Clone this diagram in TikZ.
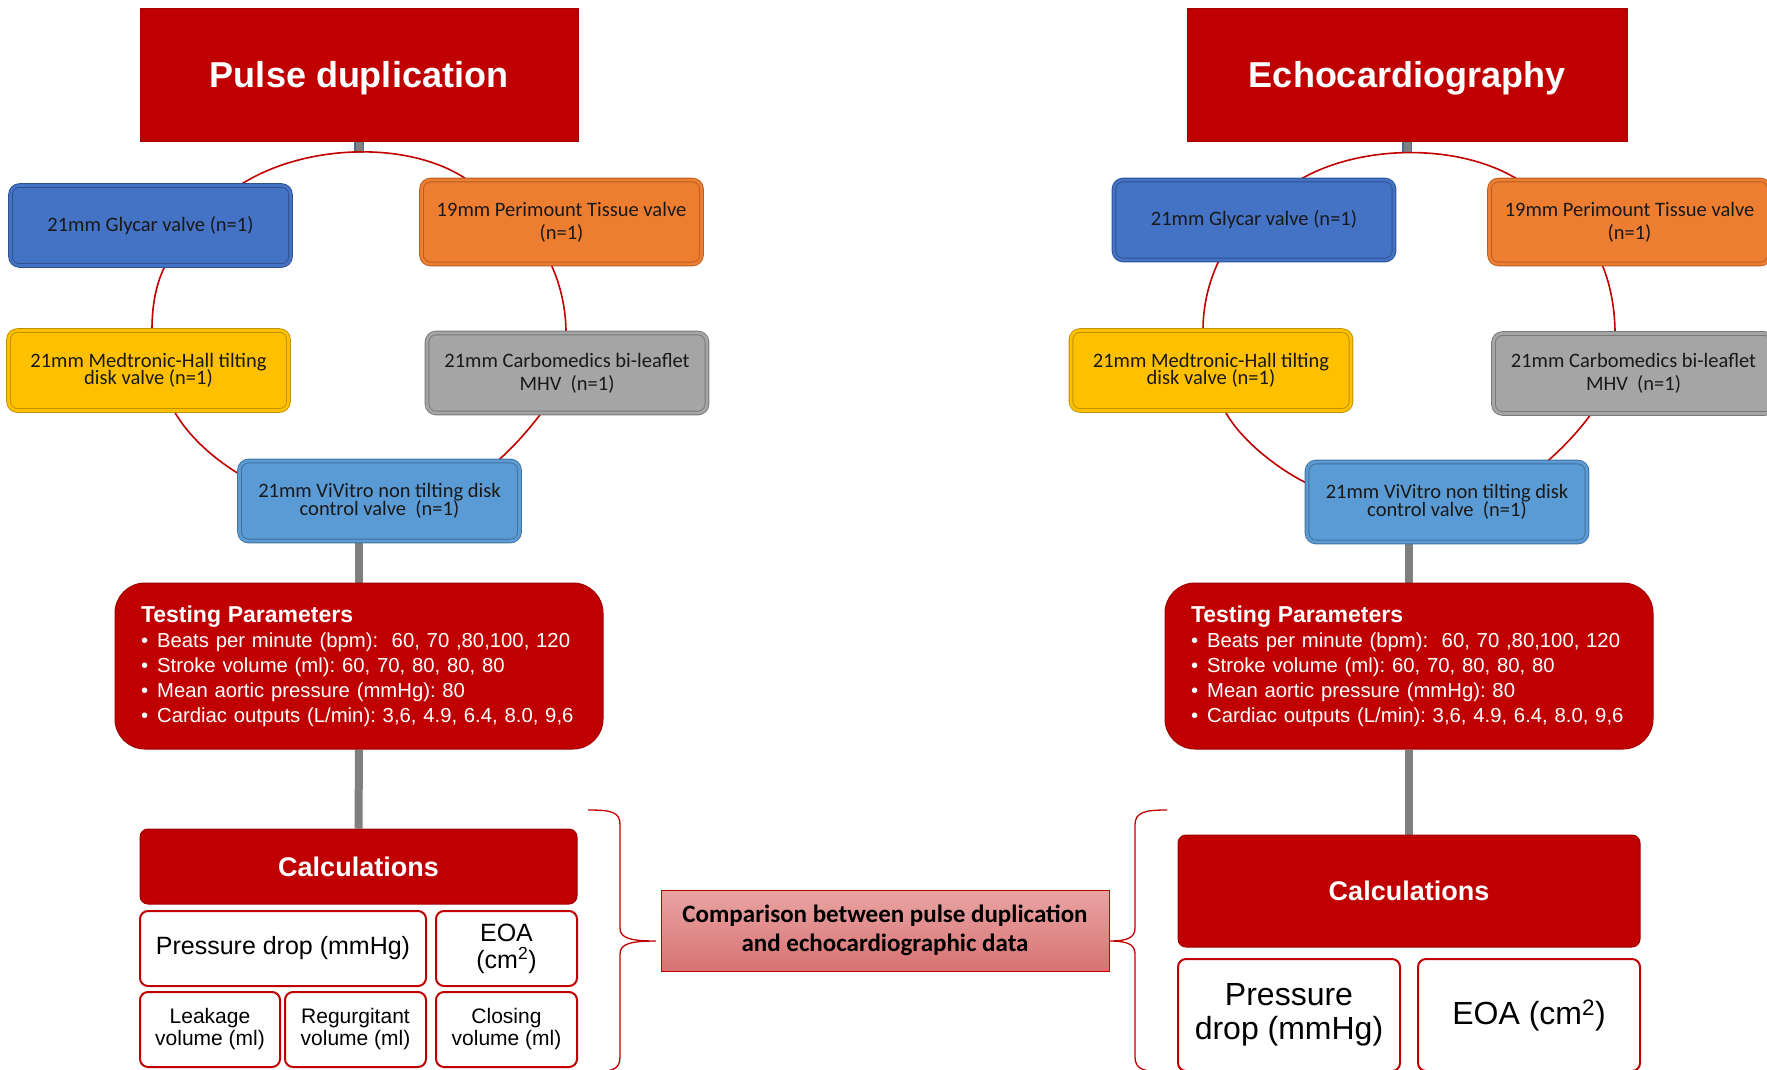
\documentclass[tikz,border=0pt]{standalone}
\usepackage{fontspec}
\setmainfont{Liberation Sans}
\newfontfamily\calibfont{Carlito}
\usetikzlibrary{backgrounds}
\definecolor{pdred}{HTML}{C00000}
\definecolor{pdredline}{HTML}{A00000}
\definecolor{glyblue}{HTML}{4472C4}
\definecolor{glyblueline}{HTML}{2F528F}
\definecolor{periorange}{HTML}{ED7D31}
\definecolor{perioline}{HTML}{B85F22}
\definecolor{medyellow}{HTML}{FFC000}
\definecolor{medline}{HTML}{C09000}
\definecolor{carbgrey}{HTML}{A5A5A5}
\definecolor{carbline}{HTML}{787878}
\definecolor{vivblue}{HTML}{5B9BD5}
\definecolor{vivline}{HTML}{41719C}
\definecolor{linkgrey}{HTML}{7F7F7F}
\definecolor{stubline}{HTML}{4A6A9A}
\definecolor{comptop}{HTML}{E9A4A4}
\definecolor{compbottom}{HTML}{D87272}
\newcommand\tightlines{\lineskiplimit=-50pt}
\begin{document}
\begin{tikzpicture}[x=1pt, y=-1pt,
  ring/.style={draw=pdred, line width=1.6pt},
  link/.style={draw=linkgrey, line width=8pt},
  stub/.style={draw=stubline, double=linkgrey, double distance=7pt, line width=1.2pt},
  headbox/.style={rectangle, fill=pdred, draw=pdredline, line width=1pt, text=white, inner sep=0pt, text depth=0pt, minimum height=133pt, font=\fontsize{36}{40}\selectfont\bfseries},
  valve/.style 2 args={rectangle, rounded corners=9pt, fill=#1, draw=#2, double=#1, double distance=2.8pt, line width=0.9pt, inner sep=0pt, minimum width=280pt, minimum height=80pt, align=center, text=black!90, font=\calibfont\fontsize{20.5}{23}\selectfont},
  tight/.style={font=\calibfont\fontsize{20.5}{17.5}\selectfont\tightlines},
  parambox/.style={rectangle, rounded corners=30pt, fill=pdred, draw=pdredline, line width=1pt, text=white, minimum width=488pt, minimum height=166pt, text width=436pt, inner xsep=26pt, inner ysep=0pt, align=left, font=\fontsize{20.3}{25}\selectfont\frenchspacing},
  calcbox/.style={rectangle, rounded corners=8pt, fill=pdred, draw=pdredline, line width=1pt, text=white, inner sep=0pt, font=\fontsize{27}{30}\selectfont\bfseries},
  resbox/.style={rectangle, rounded corners=8pt, fill=white, draw=pdred, line width=2pt, inner sep=0pt, align=center},
  compbox/.style={rectangle, top color=comptop, bottom color=compbottom, draw=pdred, line width=1pt, inner sep=0pt, minimum width=448pt, minimum height=81pt, align=center, font=\calibfont\bfseries\fontsize{25}{29}\selectfont},
  cmpbrace/.style={draw=pdred, line width=1.3pt}]
\useasboundingbox (0,0) rectangle (1767,1069);

\node[headbox, minimum width=438pt] (titleL) at (359,74.5) {Pulse duplication};
\node[headbox, minimum width=440pt] (titleR) at (1407,74.5) {Echocardiography};

\node[valve={glyblue}{glyblueline}] (glyL) at (150.5,225.5) {21mm Glycar valve (n=1)};
\node[valve={periorange}{perioline}, minimum height=84pt] (perL) at (561.5,222) {19mm Perimount Tissue valve\\(n=1)};
\node[valve={medyellow}{medline}, tight] (medL) at (148.5,370.5) {21mm Medtronic-Hall tilting\\disk valve (n=1)};
\node[valve={carbgrey}{carbline}] (carL) at (567,373) {21mm Carbomedics bi-leaflet\\MHV~~(n=1)};
\node[valve={vivblue}{vivline}, tight] (vivL) at (379.5,501) {21mm ViVitro non tilting disk\\control valve~~(n=1)};

\node[valve={glyblue}{glyblueline}] (glyR) at (1254,220) {21mm Glycar valve (n=1)};
\node[valve={periorange}{perioline}, minimum height=84pt] (perR) at (1629.5,222) {19mm Perimount Tissue valve\\(n=1)};
\node[valve={medyellow}{medline}, tight] (medR) at (1211,370.5) {21mm Medtronic-Hall tilting\\disk valve (n=1)};
\node[valve={carbgrey}{carbline}] (carR) at (1633.5,373.5) {21mm Carbomedics bi-leaflet\\MHV~~(n=1)};
\node[valve={vivblue}{vivline}, tight] (vivR) at (1447,502) {21mm ViVitro non tilting disk\\control valve~~(n=1)};

\node[parambox] (testL) at (359,666) {{\fontsize{23}{25}\selectfont\bfseries Testing Parameters}\\
  \textbullet\hspace{9pt}Beats per minute (bpm):~ 60, 70 ,80,100, 120\\
  \textbullet\hspace{9pt}Stroke volume (ml): 60, 70, 80, 80, 80\\
  \textbullet\hspace{9pt}Mean aortic pressure (mmHg): 80\\
  \textbullet\hspace{9pt}Cardiac outputs (L/min): 3,6, 4.9, 6.4, 8.0, 9,6};
\node[parambox] (testR) at (1409,666) {{\fontsize{23}{25}\selectfont\bfseries Testing Parameters}\\
  \textbullet\hspace{9pt}Beats per minute (bpm):~ 60, 70 ,80,100, 120\\
  \textbullet\hspace{9pt}Stroke volume (ml): 60, 70, 80, 80, 80\\
  \textbullet\hspace{9pt}Mean aortic pressure (mmHg): 80\\
  \textbullet\hspace{9pt}Cardiac outputs (L/min): 3,6, 4.9, 6.4, 8.0, 9,6};

\node[calcbox, minimum width=437pt, minimum height=75pt] (calcL) at (358.5,866.5) {Calculations};
\node[resbox, minimum width=286pt, minimum height=75pt, font=\fontsize{25}{27}\selectfont] (presL) at (283,948.5) {Pressure drop (mmHg)};
\node[resbox, minimum width=141pt, minimum height=75pt, font=\fontsize{25}{27}\selectfont] (eoaL) at (506.5,948.5) {EOA\\(cm\textsuperscript{2})};
\node[resbox, minimum width=140pt, minimum height=75pt, font=\fontsize{21}{22}\selectfont] (leakL) at (210,1029.5) {Leakage\\volume (ml)};
\node[resbox, minimum width=141pt, minimum height=75pt, font=\fontsize{21}{22}\selectfont] (regL) at (355.5,1029.5) {Regurgitant\\volume (ml)};
\node[resbox, minimum width=141pt, minimum height=75pt, font=\fontsize{21}{22}\selectfont] (closL) at (506.5,1029.5) {Closing\\volume (ml)};

\node[calcbox, minimum width=462pt, minimum height=112pt] (calcR) at (1409,891) {Calculations};
\node[resbox, minimum width=222pt, minimum height=112pt, font=\fontsize{32}{34}\selectfont] (presR) at (1289,1015) {Pressure\\drop (mmHg)};
\node[resbox, minimum width=222pt, minimum height=112pt, font=\fontsize{32}{34}\selectfont] (eoaR) at (1529,1015) {EOA (cm\textsuperscript{2})};

\node[compbox] (comp) at (885,930.5) {Comparison between pulse duplication\\and echocardiographic data};

\coordinate (ringL) at (359,153);
\coordinate (ringR) at (1407,153);

\begin{scope}[on background layer]
\draw[stub] (titleL.south) -- (ringL);
\draw[stub] (titleR.south) -- (ringR);
\draw[ring] ([shift={(89.5,0)}]glyL.north) .. controls +(65,-42) and +(-57,-39) .. ([shift={(-94.5,0)}]perL.north);
\draw[ring] ([shift={(14.5,0)}]glyL.south) .. controls +(-10,20) and +(0,-22) .. ([shift={(3.5,0)}]medL.north);
\draw[ring] ([shift={(25.5,0)}]medL.south) .. controls +(15,26) and +(-26,-16) .. ([shift={(0,-27)}]vivL.west);
\draw[ring] ([shift={(-10.5,0)}]perL.south) .. controls +(10,21) and +(0,-22) .. ([shift={(-1,0)}]carL.north);
\draw[ring] ([shift={(-26,0)}]carL.south) .. controls +(-12,16) and +(15,-13) .. ([shift={(118.5,0)}]vivL.north);
\draw[ring] ([shift={(46,0)}]glyR.north) .. controls +(62,-36) and +(-58,-36) .. ([shift={(-111.5,0)}]perR.north);
\draw[ring] ([shift={(-35,0)}]glyR.south) .. controls +(-11,23) and +(0,-23) .. ([shift={(-8,0)}]medR.north);
\draw[ring] ([shift={(14,0)}]medR.south) .. controls +(15,29) and +(-27,-13) .. ([shift={(0,-19)}]vivR.west);
\draw[ring] ([shift={(-27.5,0)}]perR.south) .. controls +(9,21) and +(0,-22) .. ([shift={(-18.5,0)}]carR.north);
\draw[ring] ([shift={(-42.5,0)}]carR.south) .. controls +(-12,17) and +(14,-12) .. ([shift={(100,0)}]vivR.north);
\draw[link] (vivL.south -| testL.north) -- (testL.north);
\draw[link] (testL.south) -- (calcL.north);
\draw[link] (vivR.south -| testR.north) -- (testR.north);
\draw[link] (testR.south) -- (calcR.north);
\end{scope}

\draw[cmpbrace] (588,810) .. controls (612,810) and (620,812) .. (620,825) -- (620,928) .. controls (620,938) and (630,941) .. (656,941) .. controls (630,941) and (620,944) .. (620,954) -- (620,1057) .. controls (620,1070) and (612,1072) .. (588,1072);
\draw[cmpbrace] (1167,810) .. controls (1145,810) and (1135,812) .. (1135,825) -- (1135,928) .. controls (1135,938) and (1127,941) .. (1109,941) .. controls (1127,941) and (1135,944) .. (1135,954) -- (1135,1057) .. controls (1135,1070) and (1145,1072) .. (1167,1072);
\end{tikzpicture}
\end{document}
